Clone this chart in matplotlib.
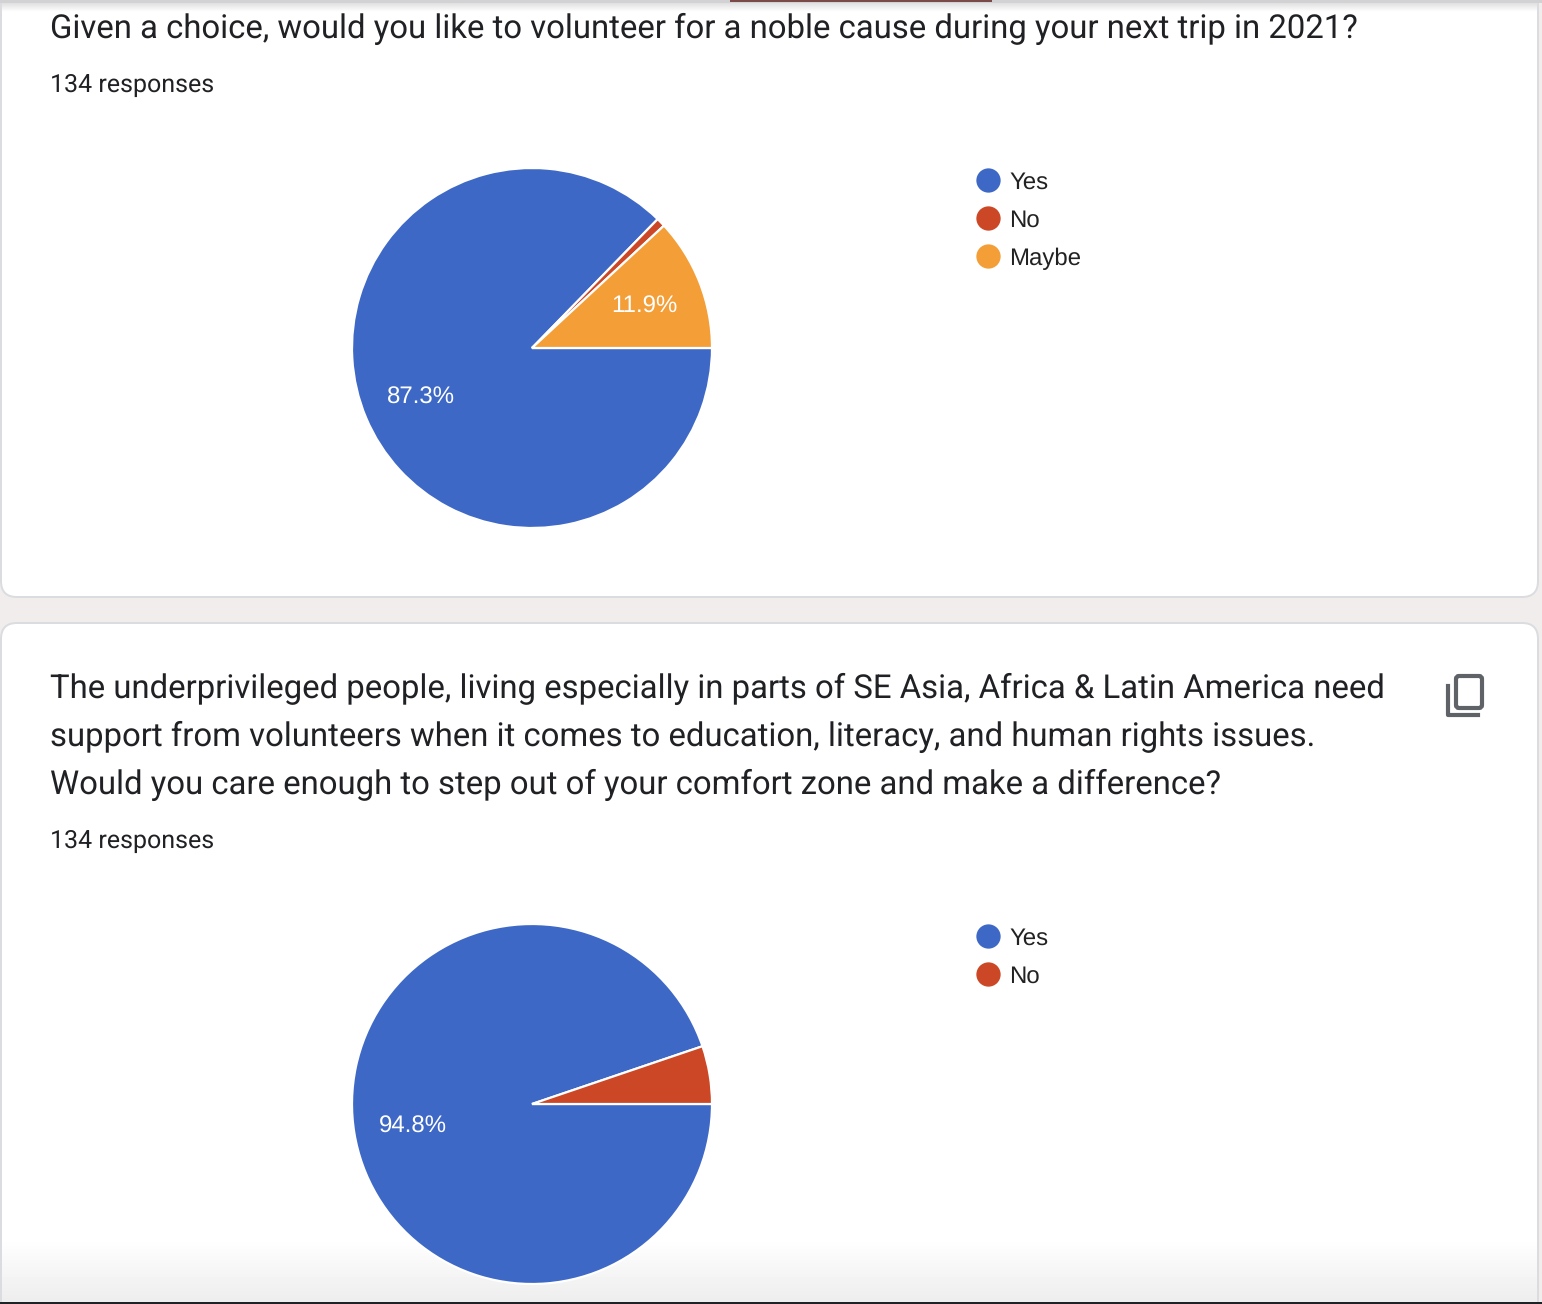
"""Two survey pie charts laid out like a Google Forms summary page."""
import numpy as np
import matplotlib.pyplot as plt
from matplotlib.patches import FancyBboxPatch, Rectangle

W, H = 1542, 1304

title_top = 'Given a choice, would you like to volunteer for a noble cause during your next trip in 2021?'
title_bottom = [
    'The underprivileged people, living especially in parts of SE Asia, Africa & Latin America need',
    'support from volunteers when it comes to education, literacy, and human rights issues.',
    'Would you care enough to step out of your comfort zone and make a difference?',
]
responses = '134 responses'

labels_top = ['Yes', 'No', 'Maybe']
values_top = [87.3, 0.8, 11.9]
colors_top = ['#3e68c5', '#cc4725', '#f49e37']

labels_bottom = ['Yes', 'No']
values_bottom = [94.8, 5.2]
colors_bottom = ['#3e68c5', '#cc4725']

TEXT = '#202124'
plt.rcParams['font.family'] = ['Roboto', 'DejaVu Sans']
plt.rcParams['text.hinting'] = 'no_hinting'

fig = plt.figure(figsize=(W / 100, H / 100), dpi=100, facecolor='#f0edec')
bg = fig.add_axes([0, 0, 1, 1])
bg.set_xlim(0, W)
bg.set_ylim(H, 0)
bg.axis('off')


def card(y0, y1):
    bg.add_patch(FancyBboxPatch((1, y0), 1537, y1 - y0, boxstyle='round,pad=0,rounding_size=16',
                                fc='white', ec='#dadce0', lw=1.4, zorder=1))


card(-30, 597)
card(623, 1340)

# 顶部阴影和深色边
bg.add_patch(Rectangle((0, 0), W, 3, fc='#d2d2d4', ec='none', zorder=2))
bg.add_patch(Rectangle((730, 0), 262, 2, fc='#7a4a48', ec='none', zorder=3))
top_shade = np.linspace(0.88, 1, 12).reshape(-1, 1)
bg.imshow(top_shade, extent=(2, 1537, 12, 3), cmap='gray', vmin=0, vmax=1, aspect='auto', zorder=2)

# 底部渐变
bottom_shade = np.linspace(1, 0.93, 64).reshape(-1, 1)
bg.imshow(bottom_shade, extent=(2, 1537, 1302, 1238), cmap='gray', vmin=0, vmax=1, aspect='auto', zorder=2)
bg.add_patch(Rectangle((0, 1302), W, 2, fc='#1f2225', ec='none', zorder=3))
bg.set_xlim(0, W)
bg.set_ylim(H, 0)

# 标题
bg.text(50, 38, title_top, fontsize=23.7, color=TEXT, zorder=5)
for i, line in enumerate(title_bottom):
    bg.text(50, 698 + 48 * i, line, fontsize=23.7, color=TEXT, zorder=5)
for y in [92, 848]:
    bg.text(50, y, responses, fontsize=18.0, color=TEXT, zorder=5)

# 复制图标
ICON = '#5f6368'
bg.add_patch(FancyBboxPatch((1456, 676), 26, 32, boxstyle='round,pad=0,rounding_size=3',
                            fc='none', ec=ICON, lw=3, zorder=5))
bg.plot([1448, 1448, 1478], [686, 715, 715], color=ICON, lw=3, solid_joinstyle='round', zorder=5)


def draw_pie(cy, labels, values, colors, legend_y):
    R = 180
    ax = fig.add_axes([(532 - R) / W, 1 - (cy + R) / H, 2 * R / W, 2 * R / H], zorder=4)
    _, _, pcts = ax.pie(values, colors=colors, startangle=0, counterclock=False, radius=1,
                        wedgeprops={'edgecolor': 'white', 'linewidth': 1.6},
                        autopct=lambda p: f'{p:.1f}%' if p > 10 else '', pctdistance=0.67,
                        textprops={'color': 'white', 'fontsize': 17.3, 'family': ['Liberation Sans']})
    for t in pcts:
        x, y = t.get_position()
        t.set_position((x, y - 0.014))
    ax.set_xlim(-1, 1)
    ax.set_ylim(-1, 1)
    for i, lab in enumerate(labels):
        y = legend_y + 38 * i
        bg.plot([987.6], [y], 'o', ms=17.5, color=colors[i], mec='none', zorder=5)
        bg.text(1009, y + 9, lab, fontsize=17.28, color='#222222', zorder=5, family=['Liberation Sans'])


draw_pie(348, labels_top, values_top, colors_top, 180)
draw_pie(1104, labels_bottom, values_bottom, colors_bottom, 936)

fig.savefig('out.png', dpi=100, facecolor=fig.get_facecolor())
